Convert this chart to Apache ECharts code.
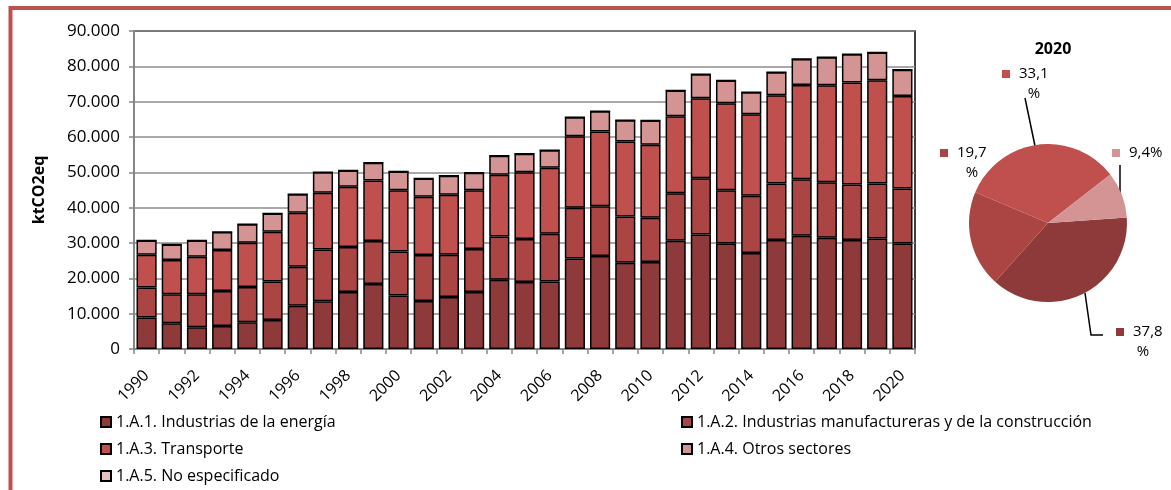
<!DOCTYPE html>
<html>
<head>
<meta charset="utf-8">
<script src="https://cdn.jsdelivr.net/npm/echarts@6/dist/echarts.min.js"></script>
<style>
  html, body { margin: 0; padding: 0; background: #fff; }
  #chart { width: 1171px; height: 490px; }
</style>
</head>
<body>
<div id="chart"></div>
<script>
// Emisiones del sector energía por subcategoría (ktCO2eq)
const years = ['1990','1991','1992','1993','1994','1995','1996','1997','1998','1999',
  '2000','2001','2002','2003','2004','2005','2006','2007','2008','2009',
  '2010','2011','2012','2013','2014','2015','2016','2017','2018','2019','2020'];

const seriesNames = [
  '1.A.1. Industrias de la energía',
  '1.A.2. Industrias manufactureras y de la construcción',
  '1.A.3. Transporte',
  '1.A.4. Otros sectores',
  '1.A.5. No especificado'
];

const energia = [8950,7260,6130,6500,7540,8200,12250,13480,16120,18380,
  15170,13570,14700,16120,19600,18940,19130,25640,26300,24410,
  24600,30630,32420,29880,27140,30820,32040,31480,30820,31290,29860];
const manufactura = [8490,8200,9330,9900,9990,10930,11030,14700,12720,12160,
  12450,13010,11970,12150,12260,12160,13480,14320,14130,13100,
  12530,13480,15930,15080,16220,16020,16030,15740,15740,15550,15560];
const transporte = [9230,9700,10650,11590,12540,14050,15270,16020,17060,17150,
  17340,16490,16970,16690,17430,18950,18660,20270,21120,21210,
  20650,21770,22620,24600,23090,24980,26670,27430,28840,29220,26150];
const otros = [4060,4430,4620,5090,5270,5180,5280,5850,4620,5000,
  5280,5190,5370,4900,5380,5180,5000,5370,5740,6030,
  6880,7260,6790,6410,6220,6500,7350,7910,8010,7820,7430];
const noEspecificado = [0,0,0,0,0,0,0,0,0,0,
  0,0,0,0,0,0,0,0,0,0,
  0,0,0,0,0,0,0,0,0,0,0];

const yTicks = { min: 0, max: 90000, interval: 10000 };
const pieYear = '2020';

const colors = ['#8F3A3A', '#AB4543', '#C0504D', '#D49493', '#E6C1C0'];
const font = 'Open Sans';

const seriesValues = [energia, manufactura, transporte, otros, noEspecificado];

const barSeries = seriesValues.map((vals, i) => ({
  name: seriesNames[i],
  type: 'bar',
  stack: 'total',
  barCategoryGap: '20%',
  data: vals,
  itemStyle: { color: colors[i], borderColor: '#000', borderWidth: 1.5 },
  emphasis: { disabled: true }
}));

// Pie of the last year: shares of each subcategory
const pieIdx = years.indexOf(pieYear);
const pieLabelPos = [
  { x: 1116, y: 322, line: [[1085, 293], [1091, 335], [1103, 335]] },
  { x: 940, y: 143, line: null },
  { x: 1002, y: 64, line: [[1035, 146], [1025, 98], [1025, 98]] },
  { x: 1112, y: 143, line: [[1120, 193], [1120, 165], [1120, 165]] }
];
const pieData = seriesValues
  .map((vals, i) => ({
    name: seriesNames[i],
    value: vals[pieIdx],
    itemStyle: { color: colors[i] },
    label: { rich: { sq: { width: 8, height: 8, backgroundColor: colors[i] } } },
    labelLine: { show: !!(pieLabelPos[i] && pieLabelPos[i].line) }
  }))
  .filter(d => d.value > 0);

const legendRows = [
  { name: seriesNames[0], left: 95, top: 409 },
  { name: seriesNames[1], left: 676, top: 409 },
  { name: seriesNames[2], left: 95, top: 436 },
  { name: seriesNames[3], left: 676, top: 436 },
  { name: seriesNames[4], left: 95, top: 463 }
];

const chart = echarts.init(document.getElementById('chart'));
chart.setOption({
  animation: false,
  textStyle: { fontFamily: font },
  title: {
    text: pieYear,
    left: 1048,
    top: 36,
    textAlign: 'center',
    textStyle: { fontFamily: font, fontSize: 16, fontWeight: 'bold', color: '#000' }
  },
  graphic: [{
    type: 'rect',
    shape: { x: 10.5, y: 8, width: 1300, height: 700 },
    style: { fill: 'none', stroke: '#C0504D', lineWidth: 4 },
    silent: true
  }],
  legend: legendRows.map(r => ({
    data: [r.name],
    left: r.left,
    top: r.top,
    icon: 'rect',
    itemWidth: 10,
    itemHeight: 10,
    selectedMode: false,
    textStyle: { fontFamily: font, fontSize: 16, color: '#000' }
  })),
  grid: {
    left: 134, right: 256, top: 31, bottom: 141,
    show: true, borderColor: '#000', borderWidth: 1.5, backgroundColor: 'transparent'
  },
  xAxis: {
    type: 'category',
    data: years,
    boundaryGap: true,
    axisLine: { lineStyle: { color: '#868686', width: 2 } },
    axisTick: { show: true, interval: 0, length: 5, lineStyle: { color: '#868686', width: 1.5 } },
    axisLabel: { interval: 1, rotate: 45, margin: 24, fontFamily: font, fontSize: 16, color: '#000' }
  },
  yAxis: {
    type: 'value',
    min: yTicks.min,
    max: yTicks.max,
    interval: yTicks.interval,
    name: 'ktCO2eq',
    nameLocation: 'middle',
    nameGap: 87,
    nameRotate: 90,
    nameTextStyle: { fontFamily: font, fontSize: 16, fontWeight: 'bold', color: '#000' },
    axisLine: { show: true, lineStyle: { color: '#868686', width: 2 } },
    axisTick: { show: true, length: 5, lineStyle: { color: '#868686', width: 1.5 } },
    axisLabel: {
      margin: 14, fontFamily: font, fontSize: 17, color: '#000',
      formatter: v => v === 0 ? '0' : v.toLocaleString('de-DE')
    },
    splitLine: { lineStyle: { color: '#8C8C8C', width: 1.5 } }
  },
  series: [
    ...barSeries,
    {
      type: 'pie',
      center: [1048, 223],
      radius: 79,
      startAngle: 4,
      clockwise: true,
      percentPrecision: 1,
      silent: true,
      data: pieData,
      itemStyle: { borderWidth: 0 },
      label: {
        show: true,
        position: 'outside',
        overflow: 'none',
        color: '#000',
        formatter: p => {
          const s = p.percent.toFixed(1).replace('.', ',');
          return p.percent < 10 ? `{sq|}{v|${s}%}` : `{sq|}{v|${s}}\n{sp|}{p|%}`;
        },
        rich: {
          sq: { width: 8, height: 8 },
          v: { fontFamily: font, fontSize: 15, color: '#000', padding: [0, 0, 0, 9], lineHeight: 20 },
          sp: { width: 17 },
          p: { fontFamily: font, fontSize: 15, color: '#000', width: 30, align: 'center', lineHeight: 20 }
        }
      },
      labelLine: { show: true, lineStyle: { color: '#000', width: 1.5 } },
      labelLayout: params => {
        const pos = pieLabelPos[params.dataIndex];
        const out = { x: pos.x, y: pos.y, align: 'left', verticalAlign: 'top' };
        if (pos.line) out.labelLinePoints = pos.line;
        return out;
      }
    }
  ]
});
</script>
</body>
</html>
